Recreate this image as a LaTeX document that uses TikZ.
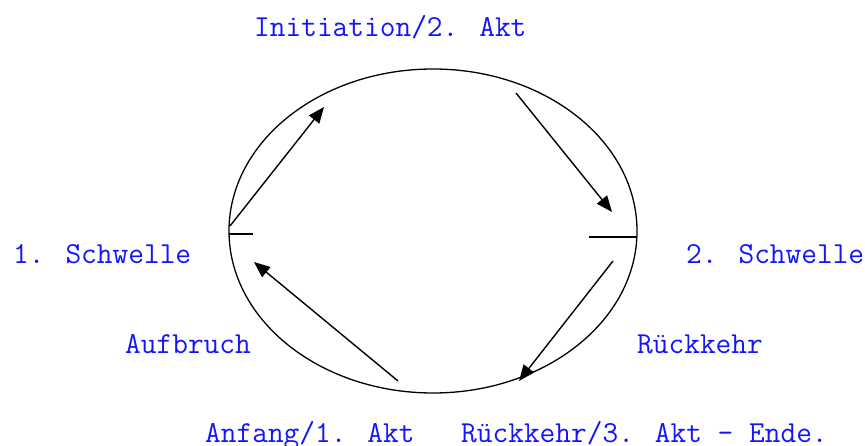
\documentclass[tikz,border=0pt]{standalone}
\usepackage{fontspec}
\usetikzlibrary{arrows.meta}
\begin{document}
\begin{tikzpicture}[x=1pt,y=-1pt,
  lbl/.style={font=\ttfamily\fontsize{30.5}{34}\selectfont, text={rgb,255:red,20;green,20;blue,255}, inner sep=0pt, anchor=base west},
  stage/.style={line width=1.4pt, -{Triangle[length=16pt,width=13pt]}},
  ring/.style={line width=1.3pt}]
  \useasboundingbox (0,0) rectangle (865,446);
  % the cycle
  \draw[ring] (433,231) ellipse [x radius=204, y radius=162];
  % thresholds
  \coordinate (t1a) at (229,234); \coordinate (t1b) at (253,234);
  \coordinate (t2a) at (589,237); \coordinate (t2b) at (637,237);
  \draw[ring] (t1a) -- (t1b);
  \draw[ring] (t2a) -- (t2b);
  % stage arrows
  \coordinate (a1s) at (230,226); \coordinate (a1e) at (324,107);
  \coordinate (a2s) at (516,93);  \coordinate (a2e) at (612,212);
  \coordinate (a3s) at (613,261); \coordinate (a3e) at (519,381);
  \coordinate (a4s) at (398,381); \coordinate (a4e) at (254,262);
  \draw[stage] (a1s) -- (a1e);
  \draw[stage] (a2s) -- (a2e);
  \draw[stage] (a3s) -- (a3e);
  \draw[stage] (a4s) -- (a4e);
  % labels
  \node[lbl] (init) at (254,37) {Initiation/2. Akt};
  \node[lbl] (sw1) at (13,264) {1. Schwelle};
  \node[lbl] (sw2) at (686,264) {2. Schwelle};
  \node[lbl] (auf) at (125,353) {Aufbruch};
  \node[lbl] (rueck) at (637,353) {Rückkehr};
  \node[lbl] (anf) at (205,442) {Anfang/1. Akt};
  \node[lbl] (ende) at (461,442) {Rückkehr/3. Akt - Ende.};
\end{tikzpicture}
\end{document}
